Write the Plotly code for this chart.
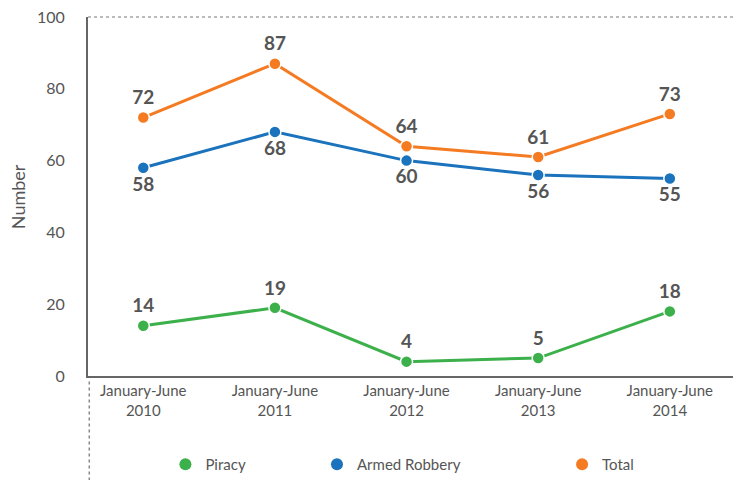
import plotly.graph_objects as go

categories = ["January-June<br>2010", "January-June<br>2011", "January-June<br>2012",
              "January-June<br>2013", "January-June<br>2014"]
piracy = [14, 19, 4, 5, 18]
armed_robbery = [58, 68, 60, 56, 55]
total = [72, 87, 64, 61, 73]
y_title = "Number"

GREEN = "#3cb04a"
BLUE = "#1a73bc"
ORANGE = "#f47b22"
TXT = "#555555"
FONT = "Lato, 'Open Sans', sans-serif"

x = list(range(len(categories)))
fig = go.Figure()

legend_pos = {"legend": 0.12, "legend2": 0.355, "legend3": 0.735}

def add(name, vals, color, pos, leg):
    fig.add_trace(go.Scatter(
        x=x, y=vals, mode="lines+markers+text", name=name, showlegend=False,
        line=dict(color=color, width=3),
        marker=dict(color=color, size=12, line=dict(color="white", width=1.5)),
        text=[str(v) for v in vals], textposition=pos,
        textfont=dict(family=FONT, size=19, color=TXT, weight="bold"),
        cliponaxis=False,
    ))
    fig.add_trace(go.Scatter(
        x=[None], y=[None], mode="markers", name=name, legend=leg,
        marker=dict(color=color, size=12),
    ))

add("Piracy", piracy, GREEN, "top center", "legend")
add("Armed Robbery", armed_robbery, BLUE, "bottom center", "legend2")
add("Total", total, ORANGE, "top center", "legend3")

legends = {}
for key, xp in legend_pos.items():
    legends[key] = dict(
        orientation="h", x=xp, xanchor="left", y=-0.245, yanchor="middle",
        font=dict(size=15, color=TXT), bgcolor="rgba(0,0,0,0)",
    )

fig.update_layout(
    width=733, height=481,
    margin=dict(l=88, r=0, t=17, b=104),
    paper_bgcolor="white", plot_bgcolor="white",
    font=dict(family=FONT, color=TXT, size=15),
    xaxis=dict(
        tickmode="array", tickvals=x, ticktext=categories, automargin=False,
        range=[-0.42, 4.48], showgrid=False, zeroline=False,
        showline=True, linecolor="#666666", linewidth=2,
        ticks="", tickfont=dict(size=15, color=TXT),
    ),
    yaxis=dict(
        range=[0, 100], dtick=20, showgrid=False, zeroline=False, automargin=False,
        showline=True, linecolor="#666666", linewidth=2,
        ticks="", ticklabelstandoff=18, tickfont=dict(size=16, color=TXT),
    ),
    **legends,
    annotations=[
        dict(text=y_title, xref="paper", yref="paper", x=-0.109, y=0.5,
             xanchor="center", yanchor="middle", textangle=-90, showarrow=False,
             font=dict(size=18, color=TXT)),
    ],
    shapes=[
        dict(type="line", xref="paper", yref="paper", x0=0, x1=1, y0=1, y1=1,
             line=dict(color="#777777", width=1, dash="dot")),
        dict(type="line", xref="paper", yref="paper", x0=0.002, x1=0.002, y0=-0.015, y1=-0.29,
             line=dict(color="#888888", width=1.5, dash="dot")),
    ],
)

fig.write_html("out.html", config={"displayModeBar": False},
               post_script="document.body.style.margin='0';")
